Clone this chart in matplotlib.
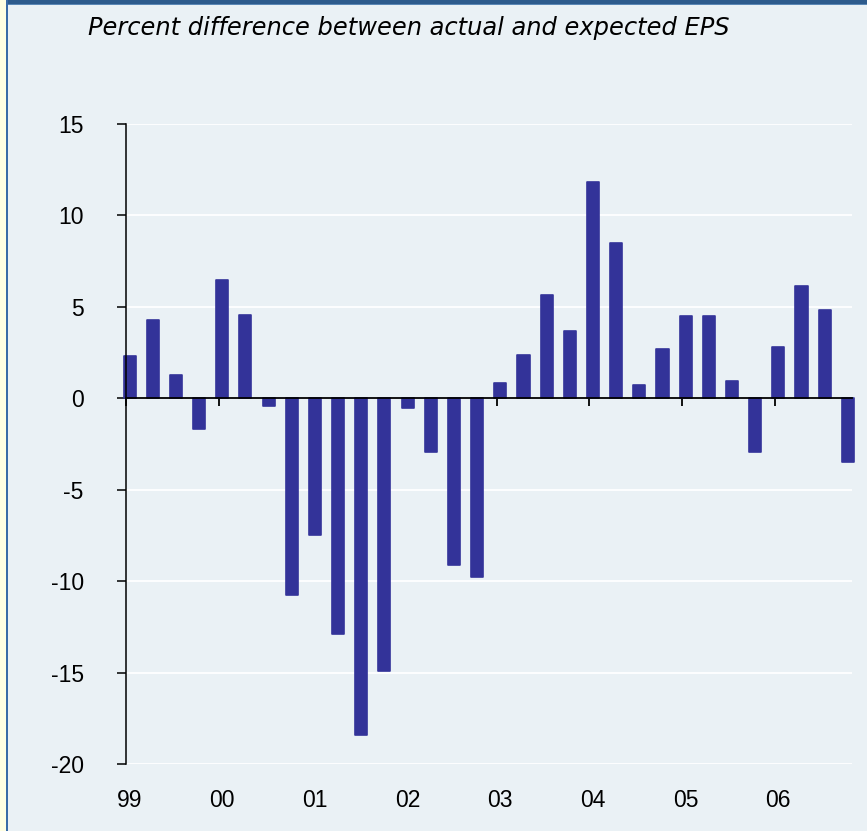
import numpy as np
import matplotlib
matplotlib.use("Agg")
import matplotlib.pyplot as plt
from matplotlib.patches import Rectangle

# ---- data ----
years = ["99", "00", "01", "02", "03", "04", "05", "06"]
eps_surprise = [2.3, 4.3, 1.3, -1.65,
                6.5, 4.55, -0.4, -10.75,
                -7.45, -12.9, -18.4, -14.9,
                -0.5, -2.95, -9.1, -9.75,
                0.85, 2.4, 5.65, 3.7,
                11.85, 8.5, 0.75, 2.7,
                4.5, 4.5, 0.95, -2.95,
                2.8, 6.15, 4.85, -3.45]
y_ticks = [-20, -15, -10, -5, 0, 5, 10, 15]
title = "Percent difference between actual and expected EPS"

# ---- style ----
BG = "#EAF1F5"
BAR = "#333399"
W, H = 867, 831
fig = plt.figure(figsize=(W / 100, H / 100), dpi=100, facecolor=BG)

# frame decorations
fig.patches.append(Rectangle((0, 0), 6 / W, 1, transform=fig.transFigure,
                             facecolor="#FFFFE3", edgecolor="none", zorder=0))
fig.patches.append(Rectangle((6 / W, 0), 2 / W, 1, transform=fig.transFigure,
                             facecolor="#3A6CA8", edgecolor="none", zorder=0))
fig.patches.append(Rectangle((8 / W, 1 - 4 / H), 1, 4 / H, transform=fig.transFigure,
                             facecolor="#2D5B8C", edgecolor="none", zorder=0))
fig.patches.append(Rectangle((8 / W, 1 - 5 / H), 1, 1 / H, transform=fig.transFigure,
                             facecolor="#5A87B5", edgecolor="none", zorder=0))

left, right, top, bottom = 126, 852.3, 124, 764.3
ax = fig.add_axes([left / W, 1 - bottom / H, (right - left) / W, (bottom - top) / H])
ax.set_facecolor(BG)

n = len(eps_surprise)
x = np.arange(n)
offset = 0.155
ax.bar(x, eps_surprise, width=0.52, color=BAR, edgecolor=BAR, linewidth=1.2,
       joinstyle="round", clip_on=False, zorder=2)

ax.set_ylim(-20, 15)
ax.set_xlim(-offset, -offset + (right - left) / 23.17)
ax.set_yticks(y_ticks)
ax.set_yticklabels([str(v) for v in y_ticks], fontsize=16.5, family="Liberation Sans")
ax.tick_params(axis="y", direction="out", length=6.5, width=1.1, pad=24, colors="black")

ax.set_axisbelow(True)
ax.yaxis.grid(True, color="white", linewidth=1.3)
ax.xaxis.grid(False)

for s in ["top", "right"]:
    ax.spines[s].set_visible(False)
ax.spines["left"].set_linewidth(1.1)
ax.spines["left"].set_zorder(3)
ax.spines["bottom"].set_position(("data", 0))
ax.spines["bottom"].set_linewidth(1.3)
ax.spines["bottom"].set_zorder(3)

tick_pos = np.arange(0, n, 4) - offset
ax.set_xticks(tick_pos)
ax.set_xticklabels([""] * len(tick_pos))
ax.tick_params(axis="x", direction="out", length=6, width=1.3, colors="black")

sec = ax.secondary_xaxis(0)
sec.set_xticks(np.arange(0, n, 4))
sec.set_xticklabels(years, fontsize=16.5, family="Liberation Sans")
sec.tick_params(length=0, pad=17.5)
sec.spines["bottom"].set_visible(False)

fig.text(88 / W, 1 - 28 / H, title, ha="left", va="center", fontsize=17.4,
         style="italic", family="DejaVu Sans", color="black")

fig.savefig("out.png", dpi=100, facecolor=BG)
